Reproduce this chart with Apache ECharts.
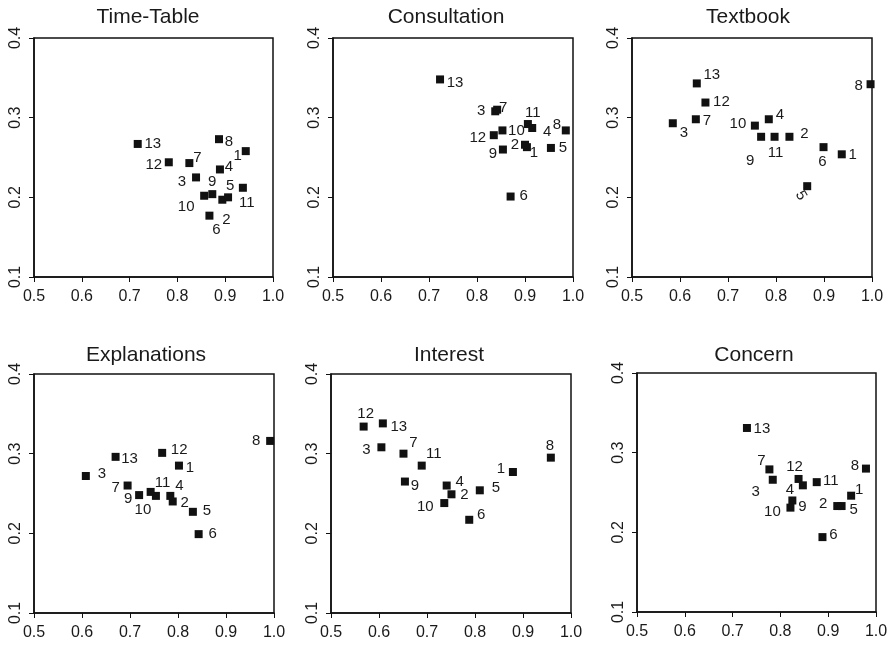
<!DOCTYPE html>
<html>
<head>
<meta charset="utf-8">
<title>panels</title>
<script src="https://cdn.jsdelivr.net/npm/echarts@6/dist/echarts.min.js"></script>
<style>
    html, body { margin: 0; padding: 0; background: #fff; }
    #container { width: 891px; height: 645px; }
</style>
</head>
<body>
<div id="container"></div>
<script>
// 点编号 1..13
const pointNames = ['1', '2', '3', '4', '5', '6', '7', '8', '9', '10', '11', '12', '13'];
const panelTitles = ['Time-Table', 'Consultation', 'Textbook', 'Explanations', 'Interest', 'Concern'];
const xTicks = [0.5, 0.6, 0.7, 0.8, 0.9, 1.0];
const yTicks = [0.1, 0.2, 0.3, 0.4];

// 各面板数据 (按点 1..13 顺序)
const timeTableX = [0.943, 0.894, 0.839, 0.889, 0.906, 0.867, 0.825, 0.887, 0.873, 0.856, 0.937, 0.782, 0.717];
const timeTableY = [0.258, 0.197, 0.225, 0.235, 0.200, 0.177, 0.243, 0.273, 0.204, 0.202, 0.212, 0.244, 0.267];

const consultationX = [0.904, 0.900, 0.838, 0.915, 0.954, 0.870, 0.842, 0.985, 0.854, 0.853, 0.906, 0.835, 0.723];
const consultationY = [0.263, 0.266, 0.308, 0.287, 0.262, 0.201, 0.310, 0.284, 0.260, 0.284, 0.292, 0.278, 0.348];

const textbookX = [0.937, 0.828, 0.585, 0.785, 0.865, 0.899, 0.633, 0.997, 0.769, 0.756, 0.797, 0.653, 0.635];
const textbookY = [0.254, 0.276, 0.293, 0.298, 0.214, 0.263, 0.298, 0.342, 0.276, 0.290, 0.276, 0.319, 0.343];

const explanationsX = [0.802, 0.789, 0.608, 0.784, 0.831, 0.843, 0.695, 0.992, 0.719, 0.754, 0.743, 0.767, 0.670];
const explanationsY = [0.285, 0.240, 0.272, 0.247, 0.227, 0.199, 0.260, 0.316, 0.248, 0.247, 0.252, 0.301, 0.296];

const interestX = [0.879, 0.751, 0.605, 0.741, 0.810, 0.788, 0.651, 0.958, 0.654, 0.736, 0.689, 0.568, 0.608];
const interestY = [0.277, 0.249, 0.308, 0.260, 0.254, 0.217, 0.300, 0.295, 0.265, 0.238, 0.285, 0.334, 0.338];

const concernX = [0.948, 0.919, 0.784, 0.847, 0.928, 0.888, 0.777, 0.979, 0.825, 0.821, 0.876, 0.838, 0.730];
const concernY = [0.246, 0.233, 0.266, 0.259, 0.233, 0.194, 0.279, 0.280, 0.240, 0.231, 0.263, 0.267, 0.331];

const panelX = [timeTableX, consultationX, textbookX, explanationsX, interestX, concernX];
const panelY = [timeTableY, consultationY, textbookY, explanationsY, interestY, concernY];

// 标签相对点中心的偏移 (像素)
const labelOffsets = [
    [[-8, 5], [4, 20], [-14, 4], [9, -3], [2, -11], [7, 14], [8, -5], [10, 3], [0, -12], [-18, 11], [4, 15], [-15, 3], [15, 0]],
    [[7, 6], [-10, 0], [-14, 0], [15, 4], [12, 0], [13, -1], [6, -2], [-9, -6], [-10, 4], [14, 0], [5, -11], [-16, 3], [15, 3]],
    [[11, 1], [15, -3], [11, 10], [11, -4], [5, 10], [-1, 15], [11, 2], [-12, 2], [-11, 24], [-17, -2], [1, 16], [16, -1], [15, -9]],
    [[11, 2], [12, 1], [16, -2], [9, -10], [14, -1], [14, 0], [-12, 2], [-14, 0], [-11, 4], [-13, 14], [12, -9], [17, -3], [14, 2]],
    [[-12, -3], [13, 1], [-15, 3], [13, -4], [16, -2], [12, -5], [10, -11], [-1, -12], [10, 4], [-19, 4], [12, -12], [2, -13], [16, 3]],
    [[8, -6], [-14, -2], [-17, 12], [-13, 5], [12, 4], [11, -2], [-8, -9], [-11, -3], [10, 6], [-18, 4], [14, -1], [-4, -12], [15, 1]]
];

// 面板位置
const grids = [
    {left: 34, top: 38, width: 239, height: 239},
    {left: 333, top: 38, width: 240, height: 239},
    {left: 632, top: 38, width: 240, height: 239},
    {left: 34, top: 374, width: 240, height: 239},
    {left: 331, top: 374, width: 240, height: 239},
    {left: 637, top: 373, width: 239, height: 239}
];
const titleCenters = [[148, 7], [446, 7], [748, 7], [146, 345], [449, 345], [754, 345]];

const fontFamily = "'Liberation Sans', Arial, Helvetica, sans-serif";
const textColor = '#1a1a1a';

let dom = document.getElementById('container');
let myChart = echarts.init(dom, null, {renderer: 'canvas'});

let titles = [], gridList = [], xAxes = [], yAxes = [], series = [];

panelTitles.forEach(function (name, i) {
    titles.push({
        text: name,
        left: titleCenters[i][0],
        top: titleCenters[i][1],
        textAlign: 'center',
        padding: 0,
        textStyle: {fontFamily: fontFamily, fontSize: 21, fontWeight: 'normal', color: textColor}
    });
    gridList.push(Object.assign({
        show: true,
        borderColor: '#111',
        borderWidth: 1.5,
        backgroundColor: 'transparent'
    }, grids[i]));
    xAxes.push({
        type: 'value',
        gridIndex: i,
        min: xTicks[0],
        max: xTicks[xTicks.length - 1],
        interval: 0.1,
        axisLine: {show: true, lineStyle: {color: '#111', width: 1.5}},
        axisTick: {show: true, length: 5, lineStyle: {color: '#111', width: 1}},
        splitLine: {show: false},
        axisLabel: {
            margin: 12,
            fontFamily: fontFamily,
            fontSize: 16,
            color: textColor,
            showMinLabel: true,
            showMaxLabel: true,
            formatter: function (v) { return v.toFixed(1); }
        }
    });
    yAxes.push({
        type: 'value',
        gridIndex: i,
        min: yTicks[0],
        max: yTicks[yTicks.length - 1],
        interval: 0.1,
        axisLine: {show: true, lineStyle: {color: '#111', width: 1.5}},
        axisTick: {show: true, length: 5, lineStyle: {color: '#111', width: 1}},
        splitLine: {show: false},
        axisLabel: {
            margin: 10,
            rotate: 90,
            fontFamily: fontFamily,
            fontSize: 16,
            color: textColor,
            showMinLabel: true,
            showMaxLabel: true,
            formatter: function (v) { return v.toFixed(1); }
        }
    });

    let points = [];
    pointNames.forEach(function (p, k) {
        let item = {
            name: p,
            value: [panelX[i][k], panelY[i][k]],
            label: {offset: labelOffsets[i][k]}
        };
        // Textbook 面板中 5 的标签是斜着的
        if (i === 2 && p === '5') {
            item.label.rotate = -60;
        }
        points.push(item);
    });

    series.push({
        name: name,
        type: 'scatter',
        xAxisIndex: i,
        yAxisIndex: i,
        symbol: 'rect',
        symbolSize: 8,
        itemStyle: {color: '#111', opacity: 1},
        label: {
            show: true,
            position: 'inside',
            formatter: '{b}',
            fontFamily: fontFamily,
            fontSize: 15,
            color: textColor,
            textBorderWidth: 0
        },
        emphasis: {disabled: true},
        data: points
    });
});

let option = {
    backgroundColor: '#fff',
    animation: false,
    title: titles,
    grid: gridList,
    xAxis: xAxes,
    yAxis: yAxes,
    series: series
};

if (option && typeof option === 'object') {
    myChart.setOption(option, true);
}
</script>
</body>
</html>
